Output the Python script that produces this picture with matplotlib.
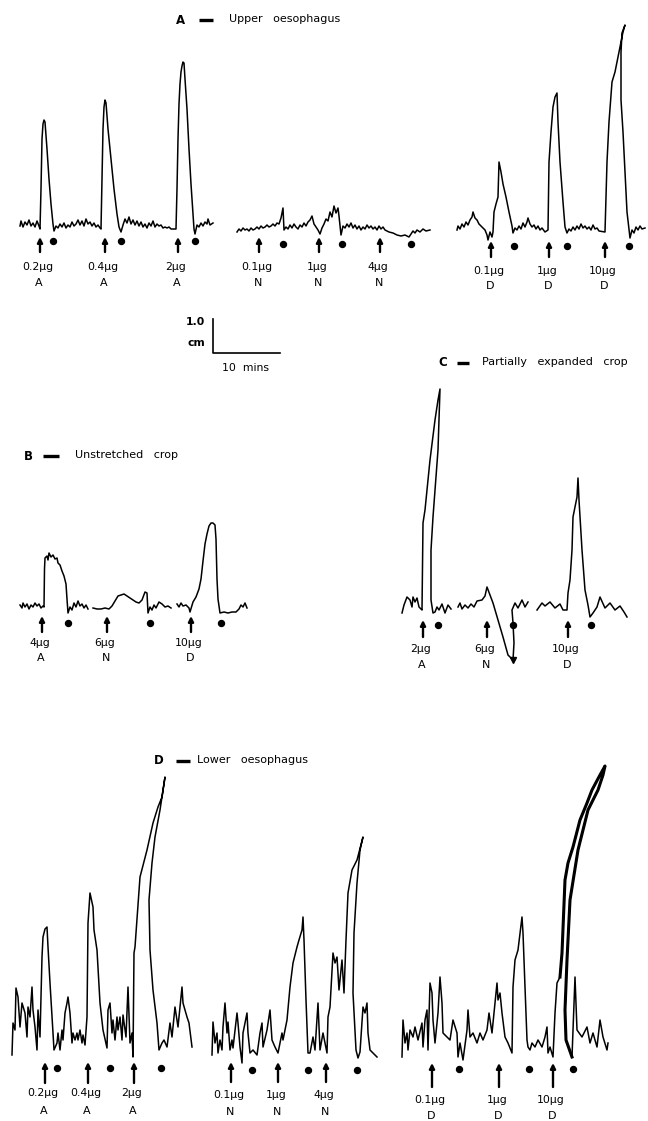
"""Oesophagus strip recordings: responses to A, N and D at rising doses."""

import matplotlib

matplotlib.use("Agg")
import matplotlib.pyplot as plt  # noqa: E402
import numpy as np  # noqa: E402

plt.rcParams["font.family"] = ["DejaVu Sans"]

nan = np.nan

# traces: (time offset, deflection above baseline) in px
A1 = [(0, 3), (1, 8), (3, 2), (5, 7), (7, 4), (9, 9), (11, 3), (13, 6), (15, 2), (17, 8),
      (19, 3), (20, 0), (21, 40), (22, 90), (23, 105), (24, 109), (25, 107), (27, 80),
      (29, 50), (31, 25), (33, 5), (34, -2), (36, 3), (38, 1), (40, 5), (42, 2), (44, 6),
      (46, 1), (48, 4), (50, 2), (52, 7), (54, 3), (56, 5), (58, 9), (60, 4), (62, 8),
      (64, 3), (66, 10), (68, 5), (70, 7), (72, 3), (74, 6), (76, 2), (78, 4), (80, 1),
      (81, 0), (82, 50), (83, 100), (84, 122), (85, 129), (86, 126), (88, 100), (91, 70),
      (94, 40), (97, 15), (99, 2), (101, -3), (103, 4), (105, 10), (107, 6), (109, 12),
      (111, 5), (113, 9), (115, 4), (117, 8), (119, 3), (121, 7), (123, 2), (125, 5),
      (127, 1), (129, 6), (131, 3), (133, 8), (135, 2), (137, 5), (139, 3), (141, 4),
      (143, 1), (145, 2), (147, 1), (149, 2), (151, 0), (156, 0), (157, 40), (158, 90),
      (159, 125), (160, 145), (161, 157), (162, 163), (163, 167), (164, 166), (165, 150),
      (167, 120), (169, 80), (171, 45), (173, 15), (174, 0), (175, -5), (177, 4), (179, 2),
      (181, 6), (183, 3), (185, 7), (187, 5), (188, 10), (190, 4), (193, 6)]
A2 = [(0, 0), (2, 3), (4, 1), (6, 4), (8, 2), (10, 3), (12, 1), (14, 4), (16, 2), (18, 3),
      (20, 5), (22, 3), (24, 6), (26, 4), (28, 5), (30, 7), (32, 5), (34, 6), (36, 8),
      (38, 6), (40, 9), (42, 8), (44, 14), (46, 24), (47, 2), (49, 5), (51, 3), (53, 7),
      (55, 4), (57, 8), (59, 5), (61, 3), (63, 7), (65, 5), (67, 9), (69, 6), (71, 10),
      (73, 12), (75, 16), (77, 8), (79, 5), (81, 2), (83, -2), (85, 4), (87, 8), (89, 13),
      (91, 11), (93, 20), (95, 15), (97, 26), (99, 19), (101, 24), (102, 16), (104, -3),
      (106, 6), (108, 4), (110, 8), (112, 5), (114, 9), (116, 4), (118, 7), (120, 3),
      (122, 6), (124, 2), (126, 5), (128, 3), (130, 7), (132, 4), (134, 6), (136, 3),
      (138, 5), (140, 2), (142, 6), (144, 3), (146, 5), (148, 2), (152, 0), (156, -1),
      (160, -3), (164, -4), (168, -3), (172, -5), (174, -2), (176, 1), (178, -1), (180, 2),
      (183, 0), (186, 3), (189, 1), (193, 2)]
A3 = [(0, 2), (1, 6), (3, 3), (5, 8), (7, 5), (9, 10), (11, 7), (13, 12), (15, 15), (16, 20),
      (18, 14), (20, 12), (22, 8), (24, 6), (26, 4), (28, 2), (30, -3), (31, -8), (33, 0),
      (35, -5), (36, 0), (37, 20), (39, 28), (41, 35), (42, 70), (44, 60), (46, 48),
      (49, 35), (52, 20), (55, 6), (56, -1), (58, 4), (60, 2), (62, 6), (64, 3), (66, 9),
      (68, 5), (70, 10), (71, 14), (73, 8), (75, 5), (77, 7), (79, 3), (81, 6), (83, 2),
      (85, 4), (88, 0), (91, 2), (92, 70), (94, 100), (96, 125), (98, 135), (100, 139),
      (101, 110), (103, 70), (106, 30), (108, 5), (110, -1), (112, 3), (114, 1), (116, 5),
      (118, 2), (120, 6), (122, 3), (124, 8), (126, 4), (128, 6), (130, 3), (132, 5),
      (134, 2), (136, 7), (138, 3), (140, 4), (142, 1), (148, 0), (150, 70), (152, 110),
      (155, 150), (158, 160), (161, 175), (164, 190), (166, 200), (168, 207), (165, 199),
      (164, 180), (164, 132), (166, 100), (168, 60), (170, 20), (173, -6), (175, 2),
      (177, -1), (179, 5), (181, 2), (183, 6), (185, 3), (188, 4)]
B = [(0, 4), (2, 1), (3, 6), (5, 2), (7, 5), (9, 0), (11, 4), (13, 2), (15, 6), (17, 3),
     (19, 5), (21, 1), (23, 3), (24, 2), (24.5, 40), (25, 51), (27, 53), (28, 49), (29, 56),
     (31, 52), (33, 54), (35, 50), (37, 51), (38, 46), (40, 44), (42, 38), (44, 33),
     (46, 25), (47, 10), (48, -4), (50, 2), (52, -1), (54, 6), (56, 2), (58, 8), (60, 3),
     (62, 5), (64, 1), (66, 4), (68, 0), (69, nan), (73, 1), (77, 0), (81, 0), (85, 1),
     (89, 0), (92, 3), (95, 8), (98, 13), (101, 14), (104, 15), (107, 13), (110, 11),
     (113, 9), (116, 7), (119, 6), (122, 9), (125, 17), (127, 16), (128, -4), (130, 2),
     (132, -1), (134, 4), (136, 1), (139, 7), (142, 5), (145, 2), (148, 3), (151, 1),
     (153, nan), (157, 5), (159, 2), (161, 6), (163, 3), (166, 4), (169, 1), (170, -3),
     (173, 7), (176, 12), (179, 20), (181, 30), (183, 48), (185, 65), (187, 75), (189, 83),
     (191, 86), (193, 86), (195, 84), (196, 70), (197, 30), (198, 10), (200, -4),
     (204, -3), (208, -4), (212, -3), (216, -3), (219, 0), (221, 4), (223, 2), (225, 6),
     (227, 1)]
C = [(0, -3), (2, 5), (5, 13), (8, 10), (10, 3), (11, 13), (13, 8), (15, 12), (17, 3),
     (19, 1), (20, 0), (21, 87), (23, 100), (28, 150), (33, 190), (36, 210), (38, 221),
     (36, 160), (31, 93), (29, 60), (29, 10), (31, -3), (33, -2), (35, 3), (37, 0), (40, 6),
     (43, -3), (46, 5), (49, 1), (50, nan), (56, 3), (58, 7), (60, 1), (63, 5), (66, 2),
     (69, 6), (72, 3), (75, 9), (80, 10), (83, 14), (85, 23), (88, 15), (91, 7), (96, -10),
     (101, -27), (106, -45), (111, -50), (112, -33), (111, -13), (110, 0), (113, 7),
     (116, 2), (120, 10), (123, 3), (126, 8), (127, nan), (135, 0), (140, 7), (143, 4),
     (148, 8), (153, 2), (158, 6), (161, 0), (165, 0), (166, 17), (168, 30), (170, 60),
     (171, 93), (175, 113), (176, 132), (177, 110), (180, 60), (183, 20), (186, 5),
     (188, -7), (191, -3), (195, 3), (198, 13), (203, 2), (208, 7), (213, 0), (218, 4),
     (222, -2), (225, -7)]
DL = [(0, -10), (1, 22), (3, 15), (4, 57), (6, 48), (8, 18), (10, 42), (13, 32), (15, 8),
      (16, 38), (18, 28), (20, 58), (21, 35), (23, 18), (25, -5), (26, 35), (28, 8),
      (30, 88), (31, 108), (33, 116), (35, 118), (36, 98), (38, 62), (41, 12), (42, -5),
      (45, 2), (46, 12), (48, -5), (50, 15), (51, 5), (53, 32), (55, 42), (56, 48), (58, 32),
      (60, 2), (61, 12), (63, 5), (65, 12), (66, 5), (68, 15), (70, 2), (71, 10), (73, 0),
      (75, 28), (76, 122), (78, 152), (81, 138), (82, 115), (85, 95), (88, 42), (91, 15),
      (95, -3), (96, 35), (98, 42), (100, 12), (101, 25), (103, 5), (105, 28), (106, 15),
      (108, 28), (110, 5), (111, 30), (114, 8), (116, 58), (118, 2), (120, 12), (121, -12),
      (122, 92), (123, 98), (128, 168), (135, 195), (141, 222), (146, 238), (150, 248),
      (153, 268), (148, 235), (143, 208), (140, 182), (137, 145), (138, 95), (141, 55),
      (145, 22), (147, -5), (150, 2), (152, 5), (155, -2), (158, 22), (160, 8), (163, 38),
      (166, 18), (170, 58), (171, 42), (175, 28), (177, 22), (180, -2)]
DM = [(0, -2), (1, 31), (3, 10), (5, 20), (6, 0), (8, 13), (10, 3), (11, 26), (13, 50),
      (15, 20), (16, 31), (18, 3), (20, 13), (21, 5), (25, 40), (26, 30), (28, 6), (30, -10),
      (31, 20), (35, 40), (36, 20), (38, 0), (41, 3), (45, -2), (48, 20), (50, 30), (51, 6),
      (55, 23), (58, 43), (60, 13), (63, 6), (66, 0), (70, 20), (71, 13), (75, 33), (78, 66),
      (81, 90), (85, 106), (87, 113), (90, 123), (91, 136), (92, 113), (94, 53), (96, 0),
      (98, 0), (101, 16), (103, 3), (106, 50), (108, 3), (111, 20), (115, 0), (116, 36),
      (118, 46), (121, 100), (123, 90), (125, 96), (127, 63), (130, 93), (132, 60),
      (134, 113), (136, 160), (140, 183), (145, 193), (151, 216), (148, 203), (145, 170),
      (142, 120), (141, 60), (144, 3), (146, -5), (148, 1), (151, 46), (153, 40), (155, 50),
      (156, 20), (158, 3), (161, 0), (165, -4)]
DR_pre = [(0, -4), (1, 33), (3, 10), (5, 20), (6, 3), (8, 23), (11, 16), (13, 26), (16, 13),
          (20, 30), (21, 6), (23, 33), (25, 43), (26, 3), (28, 70), (30, 60), (31, 33),
          (33, 10), (36, 40), (38, 76), (40, 50), (41, 20), (45, 16), (48, 13), (51, 33),
          (55, 20), (56, -4), (58, 10), (61, -7), (65, 23), (66, 43), (68, 16), (71, 20),
          (75, 10), (78, 20), (81, 13), (85, 23), (87, 40), (90, 20), (92, 40), (95, 70),
          (96, 53), (98, 60), (100, 40), (103, 16), (106, 10), (110, 0), (111, 66),
          (113, 93), (116, 103), (120, 136), (121, 120), (123, 66), (125, 13), (126, 6),
          (128, 3), (130, 10), (133, 6), (136, 13), (140, 6), (143, 16), (145, 26), (146, 0),
          (148, 6), (151, -4), (153, 40), (155, 70), (158, 76)]
DR_peak = [(158, 76), (160, 100), (163, 173), (166, 190), (171, 206), (178, 233), (185, 250),
           (190, 263), (198, 278), (203, 287), (201, 278), (196, 263), (186, 243),
           (176, 203), (168, 153), (165, 93), (163, 43), (164, 13), (170, -4)]
DR_post = [(170, -4), (173, 76), (175, 23), (180, 16), (185, 26), (188, 10), (191, 20),
           (195, 6), (198, 33), (201, 16), (205, 3), (206, 10)]

# additions (arrows) and washes (dots), same time offsets as the traces
A1_doses, A1_drugs, A1_add, A1_wash = ["0.2µg", "0.4µg", "2µg"], ["A", "A", "A"], [20, 85, 158], [33, 101, 175]
A2_doses, A2_drugs, A2_add, A2_wash = ["0.1µg", "1µg", "4µg"], ["N", "N", "N"], [22, 82, 143], [46, 105, 174]
A3_doses, A3_drugs, A3_add, A3_wash = ["0.1µg", "1µg", "10µg"], ["D", "D", "D"], [34, 92, 148], [57, 110, 172]
B_doses, B_drugs, B_add, B_wash = ["4µg", "6µg", "10µg"], ["A", "N", "D"], [22, 87, 171], [48, 130, 201]
C_doses, C_drugs, C_add, C_wash = ["2µg", "6µg", "10µg"], ["A", "N", "D"], [21, 85, 166], [36, 111, 189]
DL_doses, DL_drugs, DL_add, DL_wash = ["0.2µg", "0.4µg", "2µg"], ["A", "A", "A"], [33, 76, 122], [45, 98, 149]
DM_doses, DM_drugs, DM_add, DM_wash = ["0.1µg", "1µg", "4µg"], ["N", "N", "N"], [19, 66, 114], [40, 96, 145]
DR_doses, DR_drugs, DR_add, DR_wash = ["0.1µg", "1µg", "10µg"], ["D", "D", "D"], [30, 97, 151], [57, 127, 171]

panel_letters = ["A", "B", "C", "D"]
panel_titles = ["Upper   oesophagus", "Unstretched   crop", "Partially   expanded   crop", "Lower   oesophagus"]

# layout (figure pixels)
strips = [
    dict(trace=A1, doses=A1_doses, drugs=A1_drugs, add=A1_add, wash=A1_wash,
         x0=20, base=229, arrow=(237, 252), dot=241, lab=(267, 283)),
    dict(trace=A2, doses=A2_doses, drugs=A2_drugs, add=A2_add, wash=A2_wash,
         x0=237, base=232, arrow=(237, 252), dot=244, lab=(267, 283)),
    dict(trace=A3, doses=A3_doses, drugs=A3_drugs, add=A3_add, wash=A3_wash,
         x0=457, base=232, arrow=(241, 257), dot=246, lab=(271, 286)),
    dict(trace=B, doses=B_doses, drugs=B_drugs, add=B_add, wash=B_wash,
         x0=20, base=609, arrow=(616, 632), dot=623, lab=(643, 658)),
    dict(trace=C, doses=C_doses, drugs=C_drugs, add=C_add, wash=C_wash,
         x0=402, base=610, arrow=(620, 637), dot=625, lab=(649, 665)),
    dict(trace=DL, doses=DL_doses, drugs=DL_drugs, add=DL_add, wash=DL_wash,
         x0=12, base=1045, arrow=(1062, 1083), dot=1068, lab=(1093, 1111)),
    dict(trace=DM, doses=DM_doses, drugs=DM_drugs, add=DM_add, wash=DM_wash,
         x0=212, base=1053, arrow=(1062, 1082), dot=1070, lab=(1095, 1112)),
    dict(trace=DR_pre + DR_peak[1:] + DR_post[1:], doses=DR_doses, drugs=DR_drugs,
         add=DR_add, wash=DR_wash, x0=402, base=1053, arrow=(1063, 1087), dot=1069,
         lab=(1100, 1116)),
]
title_pos = [(180, 20, 19, 33, 49), (28, 456, 15, 31, 47), (443, 363, 14, 26, 39), (159, 761, 17, 31, 38)]

fig = plt.figure(figsize=(6.48, 11.21), dpi=100)
ax = fig.add_axes([0, 0, 1, 1])
ax.set_xlim(0, 648)
ax.set_ylim(1121, 0)
ax.axis("off")

for s in strips:
    t = np.array([p[0] for p in s["trace"]], float)
    h = np.array([p[1] for p in s["trace"]], float)
    ax.plot(s["x0"] + t, s["base"] - h, color="black", lw=1.1, solid_joinstyle="round")
    for ta, dose, drug in zip(s["add"], s["doses"], s["drugs"]):
        x = s["x0"] + ta
        ax.annotate("", xy=(x, s["arrow"][0]), xytext=(x, s["arrow"][1]),
                    arrowprops=dict(arrowstyle="-|>", lw=1.7, color="black",
                                    mutation_scale=7.5, shrinkA=0, shrinkB=0))
        ax.text(x - 2, s["lab"][0], dose, ha="center", va="center", fontsize=7.8)
        ax.text(x - 1, s["lab"][1], drug, ha="center", va="center", fontsize=8)
    for tw in s["wash"]:
        ax.plot(s["x0"] + tw, s["dot"], "o", color="black", ms=4.3)

# thick pen stroke on the big D response
pk_t = np.array([p[0] for p in DR_peak], float)
pk_h = np.array([p[1] for p in DR_peak], float)
ax.plot(402 + pk_t, 1053 - pk_h, color="black", lw=2.2, solid_joinstyle="round")

# off-scale pen in C
ax.plot(402 + 111, 610 + 50, marker="v", color="black", ms=5)

for letter, title, (x, y, d0, d1, tx) in zip(panel_letters, panel_titles, title_pos):
    ax.text(x, y, letter, ha="center", va="center", fontsize=8.5, fontweight="bold")
    ax.plot([x + d0, x + d1], [y, y], color="black", lw=2.4, solid_capstyle="butt")
    ax.text(x + tx, y - 1, title, ha="left", va="center", fontsize=8)

# scale bar: 1.0 cm / 10 mins
ax.plot([213, 213, 280], [319, 353, 353], color="black", lw=1.2)
ax.text(205, 322, "1.0", ha="right", va="center", fontsize=7.8, fontweight="bold")
ax.text(205, 343, "cm", ha="right", va="center", fontsize=7.8, fontweight="bold")
ax.text(246, 368, "10  mins", ha="center", va="center", fontsize=7.8)

fig.savefig("out.png", dpi=100)
plt.close(fig)
